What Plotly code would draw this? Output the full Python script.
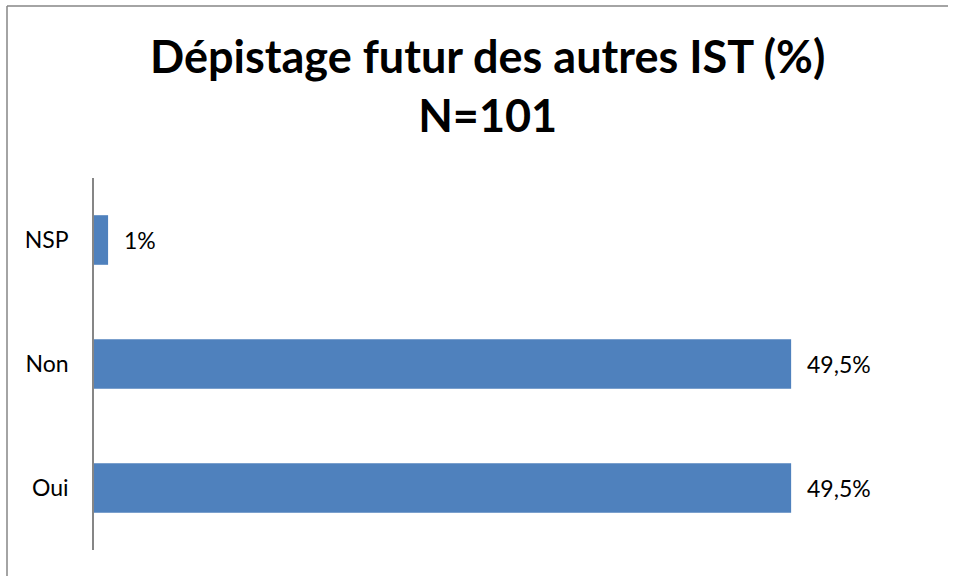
import plotly.graph_objects as go

categories = ["Oui", "Non", "NSP"]
values = [49.5, 49.5, 1]
title_line1 = "Dépistage futur des autres IST (%)"
title_line2 = "N=101"

labels = [f"{v:g}".replace(".", ",") + "%" for v in values]

FONT = "Lato, Carlito, Calibri, sans-serif"
W, H = 955, 576
L, R, T, B = 94, 16, 178, 26
PW, PH = W - L - R, H - T - B


def px(x):
    return (x - L) / PW


def py(y):
    return (H - B - y) / PH


fig = go.Figure(go.Bar(
    x=values, y=categories, orientation="h",
    marker=dict(color="#4F81BD", line=dict(width=0)),
    width=0.4, hoverinfo="skip",
))

for c, v, t in zip(categories, values, labels):
    fig.add_annotation(x=v, y=c, xref="x", yref="y", text=t, showarrow=False,
                       xanchor="left", xshift=14,
                       font=dict(family=FONT, size=23, color="#000000"))

fig.add_annotation(xref="paper", yref="paper", x=px(487), y=py(85),
                   xanchor="center", yanchor="middle",
                   text=f"<b>{title_line1}</b><br><b>{title_line2}</b>",
                   showarrow=False, font=dict(family=FONT, size=45, color="#000000"))

fig.update_layout(
    width=W, height=H,
    margin=dict(l=L, r=R, t=T, b=B),
    paper_bgcolor="white", plot_bgcolor="white",
    showlegend=False,
)

fig.update_xaxes(range=[0, 60], showgrid=False, zeroline=False, showticklabels=False,
                 showline=False, fixedrange=True)
fig.update_yaxes(categoryorder="array", categoryarray=categories, showgrid=False,
                 zeroline=False, showline=True, linecolor="#868686", linewidth=1.5,
                 ticks="", ticklabelstandoff=19,
                 tickfont=dict(family=FONT, size=23, color="#000000"), fixedrange=True)

fig.add_shape(type="line", xref="paper", yref="paper",
              x0=px(7), x1=px(7), y0=py(6), y1=py(H + 5),
              line=dict(color="#868686", width=1.5))
fig.add_shape(type="line", xref="paper", yref="paper",
              x0=px(7), x1=px(948), y0=py(6), y1=py(6),
              line=dict(color="#868686", width=1.5))

fig.write_html("out.html", config={"displayModeBar": False},
               post_script="document.body.style.margin='0';document.body.style.overflow='hidden';")
